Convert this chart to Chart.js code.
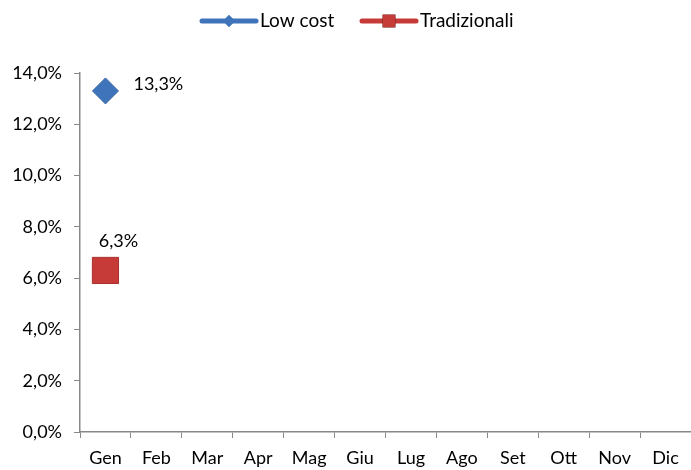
<!DOCTYPE html>
<html>
<head>
<meta charset="utf-8">
<script src="https://cdn.jsdelivr.net/npm/chart.js@4/dist/chart.umd.min.js"></script>
<style>
  html, body { margin: 0; padding: 0; background: #fff; }
  #wrap { width: 691px; height: 470px; position: relative; }
</style>
</head>
<body>
<div id="wrap"><canvas id="chart"></canvas></div>
<script>
// dati del grafico
const mesi = ['Gen', 'Feb', 'Mar', 'Apr', 'Mag', 'Giu', 'Lug', 'Ago', 'Set', 'Ott', 'Nov', 'Dic'];
const lowCost = [13.3, null, null, null, null, null, null, null, null, null, null, null];
const tradizionali = [6.3, null, null, null, null, null, null, null, null, null, null, null];
const serieNomi = ['Low cost', 'Tradizionali'];
const yTicks = [0, 2, 4, 6, 8, 10, 12, 14];

const BLU = '#3f74ba';
const ROSSO = '#c63b38';
const FONT = 'Lato, "Open Sans", sans-serif';

function fmt(v) {
    return v.toFixed(1).replace('.', ',') + '%';
}

// etichette dei valori (come Excel)
const etichette = {
    id: 'etichette',
    afterDatasetsDraw(chart) {
        const ctx = chart.ctx;
        ctx.save();
        ctx.font = '18px ' + FONT;
        ctx.fillStyle = '#000';
        ctx.textBaseline = 'middle';
        chart.data.datasets.forEach((ds, i) => {
            const meta = chart.getDatasetMeta(i);
            meta.data.forEach((pt, j) => {
                const v = ds.data[j];
                if (v == null) return;
                if (i === 0) {
                    ctx.textAlign = 'left';
                    ctx.fillText(fmt(v), pt.x + 28, pt.y - 7);
                } else {
                    ctx.textAlign = 'center';
                    ctx.fillText(fmt(v), pt.x + 13, pt.y - 29);
                }
            });
        });
        ctx.restore();
    }
};

// legenda in alto con linea + marcatore
const legenda = {
    id: 'legenda',
    afterDraw(chart) {
        const ctx = chart.ctx;
        const voci = [
            { x: 200, colore: BLU, stile: 'rectRot', r: 6 },
            { x: 360, colore: ROSSO, stile: 'rect', r: 9 }
        ];
        ctx.save();
        ctx.font = '19px ' + FONT;
        ctx.textBaseline = 'middle';
        ctx.textAlign = 'left';
        voci.forEach((v, i) => {
            const y = 21;
            ctx.strokeStyle = v.colore;
            ctx.lineWidth = 5;
            ctx.lineCap = 'round';
            ctx.beginPath();
            ctx.moveTo(v.x + 2, y);
            ctx.lineTo(v.x + 56, y);
            ctx.stroke();
            Chart.helpers.drawPoint(ctx, { pointStyle: v.stile, radius: v.r, borderWidth: 0 }, v.x + 29, y);
            ctx.fillStyle = v.colore;
            ctx.fill();
            ctx.fillStyle = '#000';
            ctx.fillText(serieNomi[i], v.x + 60, y);
        });
        ctx.restore();
    }
};

const ctx = document.getElementById('chart').getContext('2d');
new Chart(ctx, {
    type: 'line',
    data: {
        labels: mesi,
        datasets: [{
            label: serieNomi[0],
            data: lowCost,
            borderColor: BLU,
            backgroundColor: BLU,
            pointStyle: 'rectRot',
            pointRadius: 13,
            pointBorderColor: '#35649f',
            pointBorderWidth: 1,
            clip: false
        }, {
            label: serieNomi[1],
            data: tradizionali,
            borderColor: ROSSO,
            backgroundColor: ROSSO,
            pointStyle: 'rect',
            pointRadius: 18.5,
            pointBorderColor: '#a8302e',
            pointBorderWidth: 1,
            clip: false
        }]
    },
    options: {
        responsive: true,
        maintainAspectRatio: false,
        animation: false,
        // niente spazio automatico per i marcatori grandi
        layout: { autoPadding: false, padding: { top: 73, right: 0, left: 0, bottom: 0 } },
        plugins: {
            legend: { display: false },
            tooltip: { enabled: false }
        },
        scales: {
            x: {
                offset: true,
                grid: {
                    offset: true,
                    drawOnChartArea: false,
                    drawTicks: true,
                    tickLength: 6,
                    color: '#888'
                },
                border: { color: '#888', width: 1.5 },
                ticks: {
                    color: '#000',
                    font: { family: FONT, size: 18 },
                    padding: 9,
                    maxRotation: 0,
                    autoSkip: false
                },
                afterFit(scale) {
                    scale.height = 38;
                    scale.paddingLeft = 0;
                    scale.paddingRight = 0;
                }
            },
            y: {
                min: 0,
                max: 14,
                afterBuildTicks(scale) {
                    scale.ticks = yTicks.map(v => ({ value: v }));
                },
                grid: {
                    drawOnChartArea: false,
                    drawTicks: true,
                    tickLength: 6,
                    color: '#888'
                },
                border: { color: '#888', width: 1.5 },
                ticks: {
                    color: '#000',
                    font: { family: FONT, size: 18 },
                    padding: 12,
                    callback: v => fmt(v)
                },
                afterFit(scale) {
                    scale.width = 80;
                    scale.paddingTop = 0;
                    scale.paddingBottom = 0;
                }
            }
        }
    },
    plugins: [etichette, legenda]
});
</script>
</body>
</html>
